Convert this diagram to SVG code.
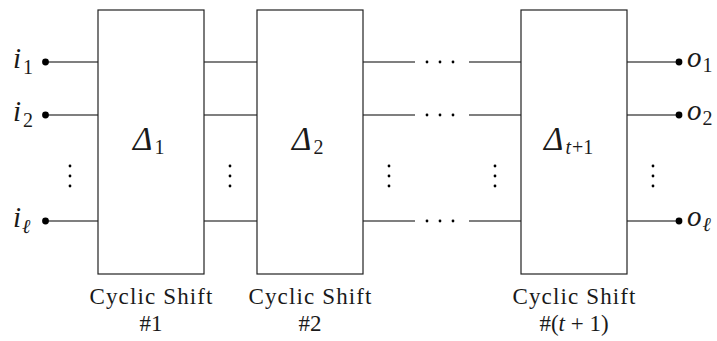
<svg xmlns="http://www.w3.org/2000/svg" width="717" height="341" viewBox="0 0 717 341">
  <style>
    .box { fill: #ffffff; stroke: #222222; stroke-width: 1.2; }
    .wire { stroke: #000000; stroke-width: 1.2; fill: none; }
    .dot { fill: #000000; }
    .pt { fill: #000000; }
    .lbl { font-family: 'Liberation Serif', 'Times New Roman', serif; fill: #1a1a1a; }
    .it { font-style: italic; }
    .up { font-style: normal; }
    .var { font-size: 29px; }
    .sub { font-size: 20px; }
    .big { font-size: 33px; }
    .cap { font-size: 23px; text-anchor: middle; }
  </style>

  <!-- wires between the stages -->
  <g id="connectors">
    <!-- inputs into stage 1 -->
    <path class="wire" d="M45,62 H98 M45,115 H98 M45,221 H98"/>
    <!-- stage 1 to stage 2 -->
    <path class="wire" d="M204,62 H257 M204,115 H257 M204,221 H257"/>
    <!-- stage 2 out, interrupted by an ellipsis -->
    <path class="wire" d="M363,62 H415 M363,115 H415 M363,221 H415"/>
    <path class="wire" d="M469,62 H521 M469,115 H521 M469,221 H521"/>
    <!-- stage t+1 to outputs -->
    <path class="wire" d="M627,62 H679 M627,115 H679 M627,221 H679"/>
    <!-- terminals -->
    <circle class="dot" cx="45.5" cy="62" r="3.4"/>
    <circle class="dot" cx="45.5" cy="115" r="3.4"/>
    <circle class="dot" cx="45.5" cy="221" r="3.4"/>
    <circle class="dot" cx="679" cy="62" r="3.4"/>
    <circle class="dot" cx="679" cy="115" r="3.4"/>
    <circle class="dot" cx="679" cy="221" r="3.4"/>
    <!-- horizontal ellipses -->
    <g class="pt">
      <circle cx="427" cy="62" r="1.4"/><circle cx="440" cy="62" r="1.4"/><circle cx="453" cy="62" r="1.4"/>
      <circle cx="427" cy="115" r="1.4"/><circle cx="440" cy="115" r="1.4"/><circle cx="453" cy="115" r="1.4"/>
      <circle cx="427" cy="221" r="1.4"/><circle cx="440" cy="221" r="1.4"/><circle cx="453" cy="221" r="1.4"/>
    </g>
    <!-- vertical ellipses -->
    <g class="pt">
      <circle cx="70" cy="166" r="1.4"/><circle cx="70" cy="176" r="1.4"/><circle cx="70" cy="186" r="1.4"/>
      <circle cx="230" cy="166" r="1.4"/><circle cx="230" cy="176" r="1.4"/><circle cx="230" cy="186" r="1.4"/>
      <circle cx="389" cy="166" r="1.4"/><circle cx="389" cy="176" r="1.4"/><circle cx="389" cy="186" r="1.4"/>
      <circle cx="495" cy="166" r="1.4"/><circle cx="495" cy="176" r="1.4"/><circle cx="495" cy="186" r="1.4"/>
      <circle cx="653" cy="166" r="1.4"/><circle cx="653" cy="176" r="1.4"/><circle cx="653" cy="186" r="1.4"/>
    </g>
  </g>

  <!-- input labels -->
  <g id="inputs">
    <text class="lbl it var" x="13" y="68">i<tspan class="up sub" dx="2" dy="6">1</tspan></text>
    <text class="lbl it var" x="13" y="121">i<tspan class="up sub" dx="2" dy="6">2</tspan></text>
    <text class="lbl it var" x="13" y="227">i<tspan class="sub" dx="1" dy="6">ℓ</tspan></text>
  </g>

  <!-- stage 1 -->
  <g id="stage1">
    <rect class="box" x="98" y="10" width="106" height="264"/>
    <text class="lbl it big" x="133" y="150">Δ<tspan class="up sub" dx="2" dy="4">1</tspan></text>
    <text class="lbl cap" x="151" y="304" textLength="123" lengthAdjust="spacing">Cyclic Shift</text>
    <text class="lbl cap" x="151" y="331">#1</text>
  </g>

  <!-- stage 2 -->
  <g id="stage2">
    <rect class="box" x="257" y="10" width="106" height="264"/>
    <text class="lbl it big" x="292" y="150">Δ<tspan class="up sub" dx="2" dy="4">2</tspan></text>
    <text class="lbl cap" x="310" y="304" textLength="123" lengthAdjust="spacing">Cyclic Shift</text>
    <text class="lbl cap" x="310" y="331">#2</text>
  </g>

  <!-- stage t+1 -->
  <g id="stage3">
    <rect class="box" x="521" y="10" width="106" height="264"/>
    <text class="lbl it big" x="544" y="150">Δ<tspan class="sub" dx="2" dy="4">t</tspan><tspan class="up sub" dx="1">+1</tspan></text>
    <text class="lbl cap" x="574" y="304" textLength="123" lengthAdjust="spacing">Cyclic Shift</text>
    <text class="lbl cap" x="574" y="331">#(<tspan class="it">t</tspan> + 1)</text>
  </g>

  <!-- output labels -->
  <g id="outputs">
    <text class="lbl it var" x="687" y="67">o<tspan class="up sub" dx="1" dy="5">1</tspan></text>
    <text class="lbl it var" x="687" y="120">o<tspan class="up sub" dx="1" dy="5">2</tspan></text>
    <text class="lbl it var" x="687" y="226">o<tspan class="sub" dx="1" dy="5">ℓ</tspan></text>
  </g>
</svg>
